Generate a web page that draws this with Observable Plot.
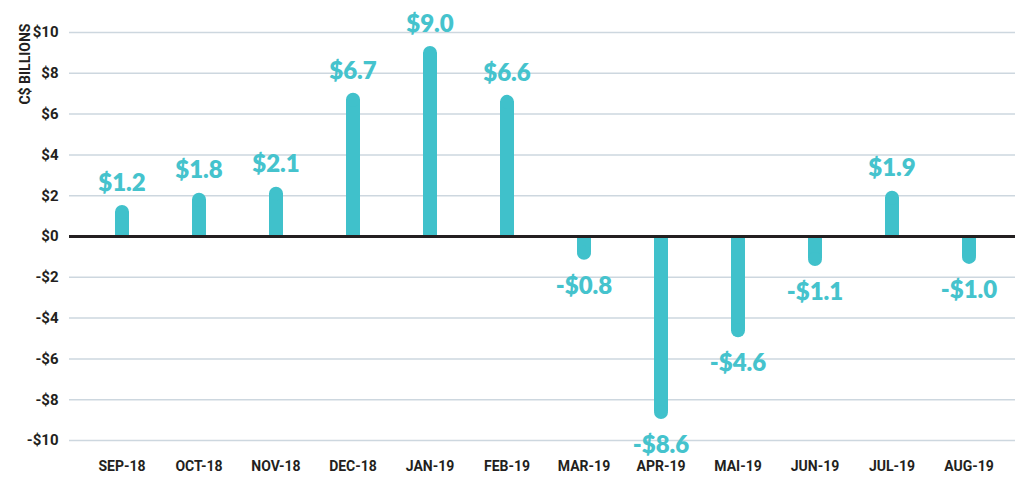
<!DOCTYPE html>
<html>
<head>
<meta charset="utf-8">
<script src="https://cdn.jsdelivr.net/npm/d3@7"></script>
<script src="https://cdn.jsdelivr.net/npm/@observablehq/plot@0.6"></script>
<style>
  html, body { margin: 0; padding: 0; background: #fff; }
  #chart svg { display: block; }
</style>
</head>
<body>
<div id="chart"></div>
<script>
const months = ["SEP-18","OCT-18","NOV-18","DEC-18","JAN-19","FEB-19","MAR-19","APR-19","MAI-19","JUN-19","JUL-19","AUG-19"];
const values = [1.2, 1.8, 2.1, 6.7, 9.0, 6.6, -0.8, -8.6, -4.6, -1.1, 1.9, -1.0];
const yTicks = [-10, -8, -6, -4, -2, 0, 2, 4, 6, 8, 10];
const yLabel = "C$ BILLIONS";

const data = months.map((m, i) => ({month: m, value: values[i]}));
const teal = "#40c1cb";
const fmt = v => (v < 0 ? "-$" : "$") + Math.abs(v).toFixed(1);
const tickFmt = v => (v < 0 ? "-$" : "$") + Math.abs(v);

const chart = Plot.plot({
  width: 1015,
  height: 478,
  marginLeft: 82,
  marginRight: 8,
  marginTop: 32,
  marginBottom: 38,
  style: {fontFamily: "Roboto, sans-serif", background: "#fff"},
  x: {type: "band", domain: months, padding: 0},
  y: {domain: [-10, 10]},
  marks: [
    Plot.ruleY(yTicks.filter(d => d !== 0), {stroke: "#cdd7df", strokeWidth: 1.5, insetLeft: -13, insetRight: -8}),
    Plot.ruleX(data, {x: "month", y1: 0, y2: "value", stroke: teal, strokeWidth: 14, strokeLinecap: "butt"}),
    Plot.dot(data, {x: "month", y: "value", r: 7, fill: teal, stroke: null}),
    Plot.ruleY([0], {stroke: "#231f20", strokeWidth: 3, insetLeft: -13, insetRight: -8}),
    Plot.text(data.filter(d => d.value >= 0), {x: "month", y: "value", text: d => fmt(d.value), dy: -29, fill: "#45c3cd", fontSize: 24, fontWeight: 800, fontFamily: "Lato, sans-serif"}),
    Plot.text(data.filter(d => d.value < 0), {x: "month", y: "value", text: d => fmt(d.value), dy: 33, fill: "#45c3cd", fontSize: 24, fontWeight: 800, fontFamily: "Lato, sans-serif"}),
    Plot.axisX({tickSize: 0, tickPadding: 21, fontSize: 14, fontWeight: "bold", color: "#231f20", label: null}),
    Plot.axisY({ticks: yTicks, tickFormat: tickFmt, tickSize: 0, tickPadding: 24, fontSize: 15, fontWeight: "bold", color: "#231f20", label: null}),
    Plot.text([yLabel], {frameAnchor: "top-left", rotate: -90, textAnchor: "end", dx: -62, dy: -9, fontSize: 14, fontWeight: "bold", fill: "#231f20"})
  ]
});
document.getElementById("chart").appendChild(chart);
</script>
</body>
</html>
